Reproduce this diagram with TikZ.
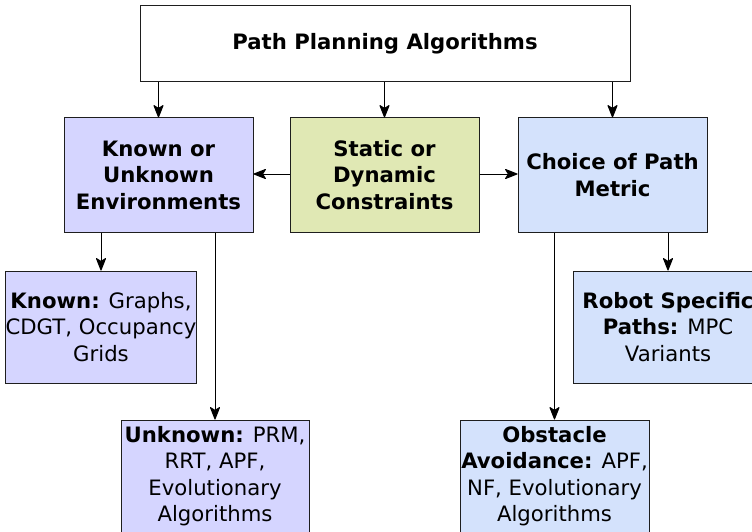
\documentclass[tikz,border=0pt]{standalone}
\usepackage{fontspec}
\setmainfont{DejaVu Sans}
\usetikzlibrary{arrows.meta}
\definecolor{purp}{RGB}{213,213,255}
\definecolor{greenish}{RGB}{224,232,180}
\definecolor{lblue}{RGB}{212,226,252}
\definecolor{edge}{RGB}{30,30,30}
\tikzset{
  box/.style={draw=edge, line width=1pt, inner sep=0pt, align=center,
    font=\fontsize{21.2}{26.5}\selectfont},
  arr/.style={draw=black, line width=1pt, -{Stealth[length=14pt,width=11pt,inset=3.5pt,round]}},
}
\begin{document}
\begin{tikzpicture}[x=1pt,y=-1pt]
\useasboundingbox (0,0) rectangle (752,532);
\clip (0,0) rectangle (752,532);
\node[box, fill=white, minimum width=490pt, minimum height=76pt] (top) at (385,44) {\textbf{Path Planning Algorithms}};
\node[box, fill=purp, minimum width=189pt, minimum height=114pt] (ku) at (158.5,175) {\textbf{Known or}\\\textbf{Unknown}\\\textbf{Environments}};
\node[box, fill=greenish, minimum width=189pt, minimum height=114pt] (st) at (384.5,175) {\textbf{Static or}\\\textbf{Dynamic}\\\textbf{Constraints}};
\node[box, fill=lblue, minimum width=189pt, minimum height=114pt] (ch) at (612.5,175) {\textbf{Choice of Path}\\\textbf{Metric}};
\node[box, fill=purp, minimum width=190pt, minimum height=112pt] (kn) at (101,327) {\textbf{Known:} Graphs,\\CDGT, Occupancy\\Grids};
\node[box, fill=purp, minimum width=188pt, minimum height=112pt] (un) at (215,476) {\textbf{Unknown:} PRM,\\RRT, APF,\\Evolutionary\\Algorithms};
\node[box, fill=lblue, minimum width=190pt, minimum height=112pt] (rb) at (668,327) {\textbf{Robot Specific}\\\textbf{Paths:} MPC\\Variants};
\node[box, fill=lblue, minimum width=189pt, minimum height=112pt] (ob) at (554.5,476) {\textbf{Obstacle}\\\textbf{Avoidance:} APF,\\NF, Evolutionary\\Algorithms};
\draw[arr] (top.south -| ku.north) -- (ku.north);
\draw[arr] (top.south -| st.north) -- (st.north);
\draw[arr] (top.south -| ch.north) -- (ch.north);
\draw[arr] ([yshift=1pt]st.west) -- ([yshift=1pt]ku.east);
\draw[arr] ([yshift=1pt]st.east) -- ([yshift=1pt]ch.west);
\draw[arr] (ku.south -| kn.north) -- (kn.north);
\draw[arr] (ku.south -| un.north) -- (un.north);
\draw[arr] (ch.south -| ob.north) -- (ob.north);
\draw[arr] (ch.south -| rb.north) -- (rb.north);
\end{tikzpicture}
\end{document}
